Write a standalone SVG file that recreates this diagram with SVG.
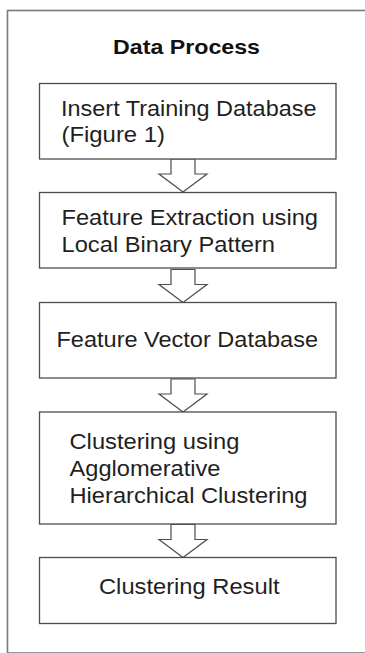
<svg xmlns="http://www.w3.org/2000/svg" width="365" height="653" viewBox="0 0 365 653">
  <style>
    .frame { fill: none; stroke: #7a7a7a; stroke-width: 1.6; }
    .box { fill: #ffffff; stroke: #4d4d4d; stroke-width: 1.3; }
    .label { font-family: "Liberation Sans", Arial, sans-serif; font-size: 21.5px; fill: #1f1f1f; }
    .title { font-family: "Liberation Sans", Arial, sans-serif; font-size: 21px; font-weight: bold; fill: #111111; }
    .flow { fill: #ffffff; stroke: #4d4d4d; stroke-width: 1.2; stroke-linejoin: miter; }
  </style>
  <defs>
    <!-- hollow block arrow, tip at (0,0), shaft top at y=-33 -->
    <path id="blockArrow" d="M -12 -33 L 12 -33 L 12 -18 L 24 -18 L 0 0 L -24 -18 L -12 -18 Z"/>
  </defs>

  <rect class="frame" x="7.5" y="10.5" width="400" height="642.5"/>
  <text class="title" x="113" y="53.5" textLength="147" lengthAdjust="spacingAndGlyphs">Data Process</text>

  <g id="connectors">
    <use href="#blockArrow" class="flow" x="183" y="192"/>
    <use href="#blockArrow" class="flow" x="183" y="302.5"/>
    <use href="#blockArrow" class="flow" x="183" y="412"/>
    <use href="#blockArrow" class="flow" x="183" y="557.5"/>
  </g>

  <g id="insert-training">
    <rect class="box" x="39.5" y="83.5" width="296.5" height="75.5"/>
    <text class="label" x="61" y="115.5" textLength="255.5" lengthAdjust="spacingAndGlyphs">Insert Training Database</text>
    <text class="label" x="61.5" y="141.5" textLength="103.5" lengthAdjust="spacingAndGlyphs">(Figure 1)</text>
  </g>

  <g id="feature-extraction">
    <rect class="box" x="39.5" y="192.5" width="296.5" height="75.5"/>
    <text class="label" x="61.5" y="225" textLength="256.5" lengthAdjust="spacingAndGlyphs">Feature Extraction using</text>
    <text class="label" x="61.5" y="251.5" textLength="213.5" lengthAdjust="spacingAndGlyphs">Local Binary Pattern</text>
  </g>

  <g id="feature-vector">
    <rect class="box" x="39.5" y="302.5" width="296.5" height="75.5"/>
    <text class="label" x="56.5" y="346.5" textLength="261.5" lengthAdjust="spacingAndGlyphs">Feature Vector Database</text>
  </g>

  <g id="clustering">
    <rect class="box" x="39.5" y="412" width="296.5" height="112"/>
    <text class="label" x="69.5" y="448.5" textLength="170" lengthAdjust="spacingAndGlyphs">Clustering using</text>
    <text class="label" x="69.5" y="475.5" textLength="151" lengthAdjust="spacingAndGlyphs">Agglomerative</text>
    <text class="label" x="69.5" y="502.5" textLength="238" lengthAdjust="spacingAndGlyphs">Hierarchical Clustering</text>
  </g>

  <g id="clustering-result">
    <rect class="box" x="39.5" y="557.5" width="296.5" height="66"/>
    <text class="label" x="99" y="594" textLength="180.5" lengthAdjust="spacingAndGlyphs">Clustering Result</text>
  </g>
</svg>
